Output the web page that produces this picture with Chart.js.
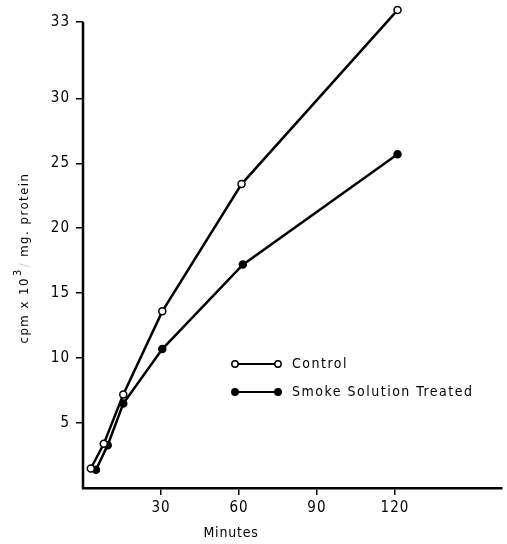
<!DOCTYPE html>
<html>
<head>
<meta charset="utf-8">
<script src="https://cdn.jsdelivr.net/npm/chart.js@4"></script>
<style>
  html, body { margin: 0; padding: 0; background: #fff; }
  #wrap { width: 507px; height: 544px; }
</style>
</head>
<body>
<div id="wrap"><canvas id="c" width="507" height="544"></canvas></div>
<script>
// values (minutes, cpm x 10^3 / mg protein)
const controlMin = [3, 8, 15.5, 30.5, 61, 121];
const controlCpm = [1.5, 3.4, 7.2, 13.6, 23.4, 36.8];
const treatedMin = [5, 9.5, 15.5, 30.5, 61.5, 121];
const treatedCpm = [1.4, 3.3, 6.5, 10.7, 17.2, 25.7];

const xTicks = [30, 60, 90, 120];
const yTicks = [5, 10, 15, 20, 25, 30, 35.9];
const yTickLabels = ['5', '10', '15', '20', '25', '30', '33'];
const yAxisTop = 35.9;   // axis line stops at the "33" mark

const FONT = '"DejaVu Sans Condensed", "DejaVu Sans", sans-serif';

const pts = (xs, ys) => xs.map((x, i) => ({x: x, y: ys[i]}));

const noPad = s => { s.paddingTop = 0; s.paddingBottom = 0; s.paddingLeft = 0; s.paddingRight = 0; };

// legend + axis titles + y axis line drawn by hand (the figure puts them in odd places)
const extras = {
  id: 'extras',
  beforeDraw(chart) {
    chart.ctx.letterSpacing = '1px';
  },
  beforeDatasetsDraw(chart) {
    const ctx = chart.ctx;
    const a = chart.chartArea;
    const ys = chart.scales.y;
    ctx.save();
    ctx.strokeStyle = '#000';
    ctx.lineWidth = 2.5;
    ctx.beginPath();
    ctx.moveTo(a.left, ys.getPixelForValue(yAxisTop));
    ctx.lineTo(a.left, a.bottom + 1);
    ctx.stroke();
    ctx.restore();
  },
  afterDraw(chart) {
    const ctx = chart.ctx;
    const a = chart.chartArea;
    ctx.save();
    ctx.fillStyle = '#000';
    ctx.strokeStyle = '#000';
    ctx.letterSpacing = '1.5px';
    ctx.font = '14px ' + FONT;
    ctx.textBaseline = 'middle';

    // legend
    const lx = a.left + 152, ly = 364;
    chart.data.datasets.forEach((ds, i) => {
      const y = ly + i * 28;
      ctx.lineWidth = 2;
      ctx.beginPath();
      ctx.moveTo(lx, y);
      ctx.lineTo(lx + 43, y);
      ctx.stroke();
      [lx, lx + 43].forEach(px => {
        ctx.beginPath();
        ctx.arc(px, y, 3.2, 0, Math.PI * 2);
        ctx.fillStyle = ds.pointBackgroundColor;
        ctx.fill();
        ctx.lineWidth = 1.5;
        ctx.stroke();
      });
      ctx.fillStyle = '#000';
      ctx.textAlign = 'left';
      ctx.fillText(ds.label, lx + 57, y);
    });

    // x title
    ctx.letterSpacing = '0.8px';
    ctx.font = '14px ' + FONT;
    ctx.textAlign = 'center';
    ctx.fillText('Minutes', 231, a.bottom + 45);

    // y title, rotated, with a raised exponent
    ctx.letterSpacing = '1.5px';
    ctx.translate(25, 259);
    ctx.rotate(-Math.PI / 2);
    ctx.textAlign = 'left';
    const p1 = 'cpm x 10', p3 = '  mg. protein';
    ctx.font = '13px ' + FONT;
    const w1 = ctx.measureText(p1).width;
    ctx.font = '11px ' + FONT;
    const w2 = ctx.measureText('3').width;
    ctx.font = '13px ' + FONT;
    const w3 = ctx.measureText(p3).width;
    let x0 = -(w1 + w2 + w3) / 2;
    ctx.fillText(p1, x0, 0);
    ctx.font = '11px ' + FONT;
    ctx.fillText('3', x0 + w1 + 1, -7);
    ctx.font = '13px ' + FONT;
    ctx.fillStyle = '#ccc';
    ctx.fillText('/', x0 + w1 + w2 + 2, 0);
    ctx.fillStyle = '#000';
    ctx.fillText(p3, x0 + w1 + w2 + 2, 0);
    ctx.restore();
  }
};

new Chart(document.getElementById('c'), {
  type: 'scatter',
  data: {
    datasets: [
      {
        label: 'Control',
        data: pts(controlMin, controlCpm),
        showLine: true,
        borderColor: '#000',
        borderWidth: 2.5,
        pointBackgroundColor: '#fff',
        pointBorderColor: '#000',
        pointBorderWidth: 1.5,
        pointRadius: 3.5,
        clip: false
      },
      {
        label: 'Smoke Solution Treated',
        data: pts(treatedMin, treatedCpm),
        showLine: true,
        borderColor: '#000',
        borderWidth: 2.5,
        pointBackgroundColor: '#000',
        pointBorderColor: '#000',
        pointBorderWidth: 1.5,
        pointRadius: 3.5,
        clip: false
      }
    ]
  },
  options: {
    responsive: false,
    animation: false,
    layout: { padding: { top: 0.5, right: 5, left: 0, bottom: 0 } },
    plugins: { legend: { display: false }, tooltip: { enabled: false } },
    scales: {
      x: {
        type: 'linear',
        min: 0,
        max: 161,
        afterBuildTicks: s => { s.ticks = xTicks.map(v => ({value: v})); },
        afterFit: s => { s.height = 56; noPad(s); },
        ticks: { color: '#000', font: { family: FONT, size: 15 }, padding: 4 },
        grid: { drawOnChartArea: false, tickLength: 7, color: '#000', lineWidth: 1.5 },
        border: { color: '#000', width: 2.5 }
      },
      y: {
        min: 0,
        max: 37.15,
        afterBuildTicks: s => { s.ticks = yTicks.map(v => ({value: v})); },
        afterFit: s => { s.width = 83; noPad(s); },
        ticks: {
          color: '#000',
          font: { family: FONT, size: 15 },
          padding: 6,
          callback: (v, i) => yTickLabels[i]
        },
        grid: { drawOnChartArea: false, tickLength: 7, color: '#000', lineWidth: 1.5 },
        border: { display: false }
      }
    }
  },
  plugins: [extras]
});
</script>
</body>
</html>
